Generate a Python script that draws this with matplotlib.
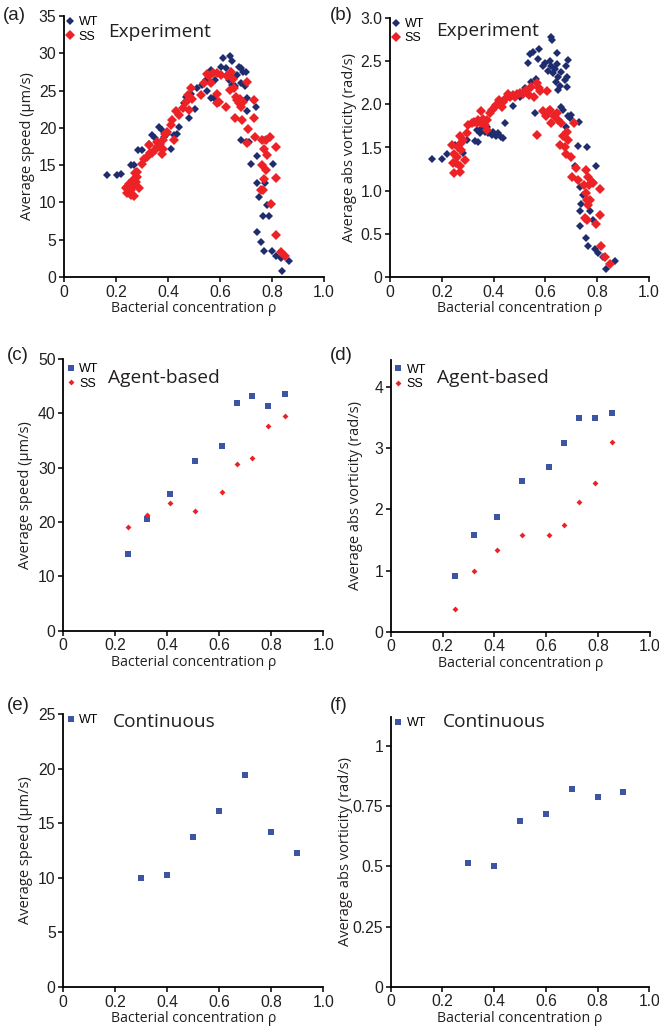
import numpy as np
import matplotlib
matplotlib.use("Agg")
import matplotlib.pyplot as plt
from matplotlib.lines import Line2D

# ---- data ----
# (a) experiment, average speed (um/s)
a_wt_rho = [0.167, 0.203, 0.221, 0.256, 0.269, 0.276, 0.286, 0.301, 0.327, 0.340,
            0.349, 0.365, 0.378, 0.385, 0.397, 0.410, 0.423, 0.442, 0.436, 0.462,
            0.468, 0.481, 0.487, 0.503, 0.513, 0.529, 0.545, 0.551, 0.564, 0.564,
            0.577, 0.579, 0.603, 0.613, 0.623, 0.628, 0.638, 0.645, 0.635, 0.647,
            0.658, 0.667, 0.673, 0.679, 0.682, 0.690, 0.695, 0.699, 0.705, 0.703,
            0.682, 0.700, 0.712, 0.718, 0.737, 0.741, 0.741, 0.750, 0.773, 0.767,
            0.790, 0.782, 0.741, 0.759, 0.769, 0.801, 0.814, 0.833, 0.865, 0.840,
            0.804, 0.769]
a_wt_v = [13.65, 13.65, 13.8, 15.0, 15.0, 14.1, 17.0, 17.0, 17.9, 19.0,
          18.6, 20.1, 19.7, 18.8, 19.2, 17.2, 19.0, 20.1, 19.2, 23.3,
          24.2, 21.3, 24.6, 22.5, 25.3, 25.7, 26.4, 25.0, 27.8, 24.0,
          24.0, 26.4, 28.2, 29.4, 28.0, 27.1, 29.7, 29.0, 26.4, 25.7,
          25.6, 27.1, 28.2, 26.0, 28.0, 27.5, 25.6, 27.5, 24.0, 22.2,
          18.4, 18.1, 18.1, 15.1, 22.8, 16.2, 12.6, 10.7, 12.6, 8.15,
          8.15, 9.6, 6.1, 4.7, 3.5, 3.5, 2.8, 2.5, 2.15, 0.8,
          15.1, 18.4]
a_ss_rho = [0.237, 0.244, 0.256, 0.269, 0.263, 0.276, 0.279, 0.282, 0.250, 0.266,
            0.288, 0.272, 0.256, 0.244, 0.301, 0.308, 0.321, 0.329, 0.327, 0.340,
            0.349, 0.359, 0.359, 0.369, 0.376, 0.381, 0.388, 0.397, 0.378, 0.382,
            0.410, 0.417, 0.429, 0.423, 0.442, 0.459, 0.468, 0.478, 0.487, 0.494,
            0.481, 0.526, 0.538, 0.549, 0.558, 0.564, 0.574, 0.587, 0.590, 0.596,
            0.590, 0.605, 0.622, 0.628, 0.638, 0.644, 0.651, 0.654, 0.658, 0.660,
            0.667, 0.673, 0.677, 0.679, 0.683, 0.690, 0.705, 0.708, 0.703, 0.731,
            0.731, 0.733, 0.763, 0.769, 0.776, 0.792, 0.782, 0.763, 0.776, 0.769,
            0.756, 0.764, 0.797, 0.814, 0.814, 0.814, 0.833, 0.849]
a_ss_v = [11.9, 11.2, 10.95, 10.8, 12.1, 12.8, 13.4, 14.1, 12.5, 13.0,
          11.9, 13.9, 11.7, 12.1, 15.2, 15.8, 16.1, 16.6, 17.7, 16.65,
          17.0, 17.5, 18.1, 17.9, 17.2, 18.4, 19.2, 19.5, 16.5, 17.2,
          20.4, 21.0, 22.3, 18.4, 21.7, 22.6, 23.5, 24.4, 25.3, 23.9,
          22.4, 24.4, 26.0, 27.2, 26.9, 26.0, 27.3, 27.4, 24.5, 23.5,
          23.3, 27.1, 22.8, 26.9, 25.1, 27.5, 26.5, 25.3, 21.3, 24.2,
          23.7, 23.3, 23.9, 22.8, 21.0, 23.5, 26.2, 19.9, 18.0, 23.7,
          21.3, 18.8, 18.4, 17.2, 18.4, 18.8, 16.3, 15.0, 14.3, 13.1,
          11.7, 11.7, 9.85, 17.5, 13.3, 5.6, 3.35, 2.8]

# (b) experiment, average abs vorticity (rad/s)
b_wt_rho = [0.163, 0.199, 0.219, 0.251, 0.280, 0.296, 0.330, 0.341, 0.334, 0.347,
            0.353, 0.366, 0.373, 0.379, 0.392, 0.398, 0.411, 0.418, 0.427, 0.437,
            0.443, 0.450, 0.476, 0.501, 0.521, 0.533, 0.540, 0.546, 0.553, 0.559,
            0.563, 0.572, 0.576, 0.589, 0.598, 0.611, 0.617, 0.621, 0.627, 0.623,
            0.630, 0.636, 0.643, 0.645, 0.649, 0.640, 0.656, 0.650, 0.662, 0.668,
            0.675, 0.681, 0.684, 0.686, 0.684, 0.688, 0.694, 0.681, 0.700, 0.730,
            0.726, 0.713, 0.761, 0.797, 0.735, 0.746, 0.739, 0.735, 0.774, 0.784,
            0.735, 0.756, 0.765, 0.793, 0.803, 0.835, 0.868, 0.823, 0.662]
b_wt_w = [1.363, 1.363, 1.425, 1.53, 1.44, 1.59, 1.58, 1.56, 1.70, 1.67,
          1.72, 1.68, 1.74, 1.665, 1.645, 1.68, 1.63, 1.665, 1.62, 1.615,
          1.78, 2.09, 1.98, 2.08, 2.19, 2.48, 2.58, 2.26, 2.61, 1.90,
          2.29, 2.52, 2.64, 2.44, 2.48, 2.39, 2.50, 2.78, 2.75, 2.44,
          2.36, 2.41, 2.47, 2.59, 2.32, 2.26, 2.21, 2.17, 2.38, 1.94,
          2.28, 2.44, 2.32, 2.51, 2.20, 1.86, 1.84, 1.74, 1.88, 1.79,
          1.52, 1.29, 1.51, 1.29, 1.045, 0.95, 0.85, 0.767, 0.767, 0.658,
          0.59, 0.457, 0.356, 0.325, 0.279, 0.097, 0.186, 0.23, 1.97]
b_ss_rho = [0.247, 0.254, 0.242, 0.247, 0.257, 0.270, 0.272, 0.263, 0.276, 0.270,
            0.283, 0.289, 0.276, 0.238, 0.296, 0.302, 0.315, 0.324, 0.334, 0.341,
            0.350, 0.353, 0.360, 0.366, 0.373, 0.375, 0.386, 0.392, 0.405, 0.411,
            0.422, 0.431, 0.437, 0.447, 0.456, 0.465, 0.473, 0.482, 0.491, 0.501,
            0.514, 0.527, 0.537, 0.546, 0.555, 0.566, 0.576, 0.581, 0.591, 0.602,
            0.607, 0.612, 0.617, 0.623, 0.632, 0.643, 0.650, 0.656, 0.662, 0.668,
            0.675, 0.679, 0.684, 0.688, 0.700, 0.704, 0.710, 0.720, 0.726, 0.748,
            0.758, 0.765, 0.756, 0.761, 0.769, 0.771, 0.778, 0.765, 0.784, 0.752,
            0.761, 0.794, 0.810, 0.812, 0.816, 0.829, 0.848, 0.566]
b_ss_w = [1.20, 1.32, 1.32, 1.43, 1.39, 1.28, 1.22, 1.51, 1.47, 1.63,
          1.59, 1.355, 1.55, 1.53, 1.665, 1.76, 1.78, 1.80, 1.78, 1.82,
          1.92, 1.78, 1.83, 1.76, 1.82, 1.70, 1.90, 1.94, 1.97, 1.99,
          2.05, 1.97, 2.03, 2.07, 2.12, 2.09, 2.11, 2.09, 2.12, 2.13,
          2.12, 2.17, 2.11, 2.20, 2.09, 1.645, 2.19, 2.15, 1.92, 1.86,
          2.15, 1.92, 1.94, 1.78, 1.86, 1.90, 1.82, 1.53, 1.78, 1.63,
          1.51, 1.43, 1.68, 1.59, 1.39, 1.16, 1.78, 1.26, 1.12, 1.065,
          1.24, 1.16, 0.97, 0.89, 1.065, 0.89, 1.10, 0.83, 1.09, 0.68,
          0.66, 0.61, 1.025, 0.716, 0.356, 0.232, 0.155, 2.25]

# (c),(d) agent-based
ab_rho = [0.248, 0.323, 0.410, 0.506, 0.610, 0.668, 0.727, 0.787, 0.853]
c_wt = [14.2, 20.5, 25.1, 31.3, 33.9, 41.9, 43.2, 41.3, 43.5]
c_ss = [19.0, 21.2, 23.5, 22.0, 25.5, 30.6, 31.8, 37.6, 39.6]
d_wt = [0.91, 1.59, 1.88, 2.46, 2.69, 3.08, 3.50, 3.50, 3.58]
d_ss = [0.37, 1.00, 1.33, 1.59, 1.59, 1.75, 2.12, 2.44, 3.11]

# (e),(f) continuous
ct_rho = [0.3, 0.4, 0.5, 0.6, 0.7, 0.8, 0.9]
e_wt = [10.0, 10.3, 13.7, 16.1, 19.4, 14.2, 12.3]
f_wt = [0.515, 0.50, 0.69, 0.72, 0.82, 0.79, 0.81]

# ---- style ----
NAVY = "#1f2d6e"
RED = "#ec2227"
BLUE = "#3a55a6"
TXT = "#231f20"
TICKFONT = "Liberation Sans"
LABFONT = "Open Sans"

W, H = 659, 1030
fig = plt.figure(figsize=(W / 100, H / 100), dpi=100)

MS_WT, MS_SS = 3.6, 4.6      # experiment diamonds
MS_SQ, MS_D = 4.5, 3.0       # model squares / diamonds


def make_ax(left, right, top, bottom):
    return fig.add_axes([left / W, 1 - bottom / H, (right - left) / W, (bottom - top) / H])


def style(ax, ylim, yticks, ylabels, ylabel, ylab_x):
    for s in ["top", "right"]:
        ax.spines[s].set_visible(False)
    for s in ["left", "bottom"]:
        ax.spines[s].set_linewidth(1.3)
        ax.spines[s].set_color("black")
    ax.set_xlim(0, 1.0)
    ax.set_ylim(*ylim)
    ax.set_xticks([0, 0.2, 0.4, 0.6, 0.8, 1.0])
    ax.set_xticklabels(["0", "0.2", "0.4", "0.6", "0.8", "1.0"])
    ax.set_yticks(yticks)
    ax.set_yticklabels(ylabels)
    ax.tick_params(direction="out", length=3.5, width=1.1, pad=2,
                   labelsize=11.3, labelcolor=TXT)
    for lab in ax.get_xticklabels() + ax.get_yticklabels():
        lab.set_fontfamily(TICKFONT)
    ax.set_xlabel("Bacterial concentration ρ", fontsize=10.2, family=LABFONT, color=TXT)
    ax.set_ylabel(ylabel, fontsize=10.5, family=LABFONT, color=TXT)
    ax.xaxis.set_label_coords(0.5, -24 / (ax.get_position().height * H))
    ax.yaxis.set_label_coords(ylab_x, 0.5)
    ax.patch.set_alpha(0)


def legend(ax, handles, x, y):
    ax.legend(handles=handles, loc="upper left", bbox_to_anchor=(x, y),
              frameon=False, handlelength=0.6, handletextpad=0.35, borderpad=0,
              borderaxespad=0, labelspacing=0.2,
              prop={"family": TICKFONT, "size": 9})


def title(ax, s, x, y):
    ax.text(x, y, s, transform=ax.transAxes, fontsize=13.8, family=LABFONT,
            color=TXT, ha="left", va="center")


speed_lab = "Average speed (μm/s)"
vort_lab = "Average abs vorticity (rad/s)"

# (a)
ax = make_ax(64, 324, 16, 277)
ax.plot(a_wt_rho, a_wt_v, "D", ms=MS_WT, mew=0, color=NAVY, linestyle="none")
ax.plot(a_ss_rho, a_ss_v, "D", ms=MS_SS, mew=0, color=RED, linestyle="none")
style(ax, (0, 35), range(0, 36, 5), [str(v) for v in range(0, 36, 5)], speed_lab, -0.112)
legend(ax, [Line2D([], [], marker="D", ms=MS_WT, mew=0, color=NAVY, ls="none", label="WT"),
            Line2D([], [], marker="D", ms=MS_SS, mew=0, color=RED, ls="none", label="SS")],
       0.01, 1.0)
title(ax, "Experiment", 0.169, 0.939)

# (b)
ax = make_ax(390, 649, 18, 277)
ax.plot(b_wt_rho, b_wt_w, "D", ms=MS_WT, mew=0, color=NAVY, linestyle="none")
ax.plot(b_ss_rho, b_ss_w, "D", ms=MS_SS, mew=0, color=RED, linestyle="none")
bt = [0, 0.5, 1.0, 1.5, 2.0, 2.5, 3.0]
style(ax, (0, 3.0), bt, ["0", "0.5", "1.0", "1.5", "2.0", "2.5", "3.0"], vort_lab, -0.129)
legend(ax, [Line2D([], [], marker="D", ms=MS_WT, mew=0, color=NAVY, ls="none", label="WT"),
            Line2D([], [], marker="D", ms=MS_SS, mew=0, color=RED, ls="none", label="SS")],
       0.01, 1.0)
title(ax, "Experiment", 0.178, 0.95)

# (c)
ax = make_ax(63.3, 323.3, 359, 630.7)
ax.plot(ab_rho, c_wt, "s", ms=MS_SQ, mew=0, color=BLUE, linestyle="none")
ax.plot(ab_rho, c_ss, "D", ms=MS_D, mew=0, color=RED, linestyle="none")
style(ax, (0, 50), range(0, 51, 10), [str(v) for v in range(0, 51, 10)], speed_lab, -0.115)
legend(ax, [Line2D([], [], marker="s", ms=MS_SQ, mew=0, color=BLUE, ls="none", label="WT"),
            Line2D([], [], marker="D", ms=MS_D, mew=0, color=RED, ls="none", label="SS")],
       0.015, 0.985)
title(ax, "Agent-based", 0.172, 0.93)

# (d)
ax = make_ax(390.7, 650, 359.7, 631.7)
ax.plot(ab_rho, d_wt, "s", ms=MS_SQ, mew=0, color=BLUE, linestyle="none")
ax.plot(ab_rho, d_ss, "D", ms=MS_D, mew=0, color=RED, linestyle="none")
style(ax, (0, 4.45), [0, 1, 2, 3, 4], ["0", "1", "2", "3", "4"], vort_lab, -0.106)
legend(ax, [Line2D([], [], marker="s", ms=MS_SQ, mew=0, color=BLUE, ls="none", label="WT"),
            Line2D([], [], marker="D", ms=MS_D, mew=0, color=RED, ls="none", label="SS")],
       0.015, 0.985)
title(ax, "Agent-based", 0.18, 0.932)

# (e)
ax = make_ax(63.3, 323.3, 714, 987)
ax.plot(ct_rho, e_wt, "s", ms=MS_SQ, mew=0, color=BLUE, linestyle="none")
style(ax, (0, 25), range(0, 26, 5), [str(v) for v in range(0, 26, 5)], speed_lab, -0.115)
legend(ax, [Line2D([], [], marker="s", ms=MS_SQ, mew=0, color=BLUE, ls="none", label="WT")],
       0.015, 1.0)
title(ax, "Continuous", 0.191, 0.971)

# (f)
ax = make_ax(390.7, 649.3, 717.3, 986.7)
ax.plot(ct_rho, f_wt, "s", ms=MS_SQ, mew=0, color=BLUE, linestyle="none")
style(ax, (0, 1.12), [0, 0.25, 0.5, 0.75, 1], ["0", "0.25", "0.5", "0.75", "1"], vort_lab, -0.147)
legend(ax, [Line2D([], [], marker="s", ms=MS_SQ, mew=0, color=BLUE, ls="none", label="WT")],
       0.015, 1.0)
title(ax, "Continuous", 0.203, 0.983)

# panel letters
for lab, x, y in [("(a)", 3, 16), ("(b)", 330, 16), ("(c)", 7, 355),
                  ("(d)", 330, 355), ("(e)", 7, 705), ("(f)", 330, 705)]:
    fig.text(x / W, 1 - y / H, lab, fontsize=13.5, family=TICKFONT, color=TXT,
             ha="left", va="center")

fig.savefig("out.png", dpi=100)
